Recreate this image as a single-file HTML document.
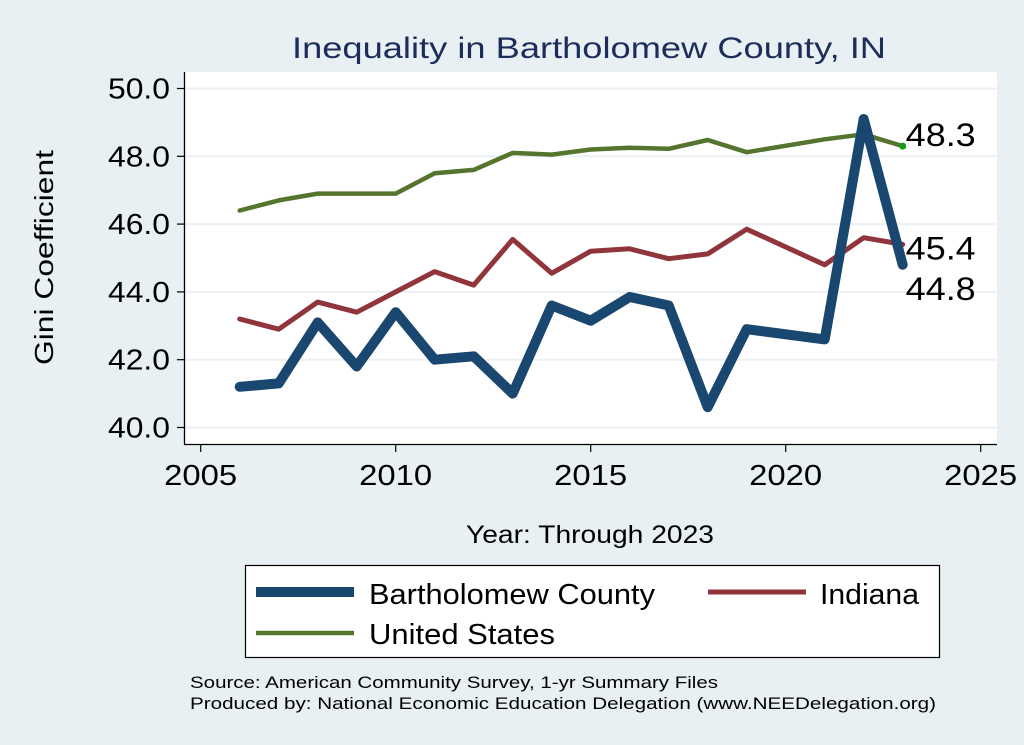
<!DOCTYPE html>
<html><head><meta charset="utf-8"><style>
html,body{margin:0;padding:0;background:#e8f0f3;}
svg{display:block;font-family:"Liberation Sans",Arial,sans-serif;}
</style></head><body>
<svg width="1024" height="745" viewBox="0 0 1024 745">
<rect x="0" y="0" width="1024" height="745" fill="#e8f0f3"/>
<text x="292" y="58" textLength="594" lengthAdjust="spacingAndGlyphs" font-size="30" fill="#1c2d5a">Inequality in Bartholomew County, IN</text>
<rect x="184" y="72" width="813" height="372" fill="#ffffff"/>
<g id="grid"></g>
<g id="axes"></g>
<g id="series"></g>
<g id="labels"></g>
<text transform="translate(53,365) rotate(-90)" textLength="215" lengthAdjust="spacingAndGlyphs" font-size="26" fill="#000">Gini Coefficient</text>
<text x="466" y="543" textLength="248" lengthAdjust="spacingAndGlyphs" font-size="25" fill="#000">Year: Through 2023</text>
<g>
<rect x="245.5" y="565.5" width="694" height="92" fill="#fff" stroke="#000" stroke-width="1.2"/>
<line x1="256" y1="592" x2="354" y2="592" stroke="#1a476f" stroke-width="10"/>
<text x="369" y="604" textLength="286" lengthAdjust="spacingAndGlyphs" font-size="29" fill="#000">Bartholomew County</text>
<line x1="708" y1="592" x2="806" y2="592" stroke="#90353b" stroke-width="5"/>
<text x="820" y="604" textLength="99" lengthAdjust="spacingAndGlyphs" font-size="29" fill="#000">Indiana</text>
<line x1="256" y1="633" x2="354" y2="633" stroke="#55752f" stroke-width="4.5"/>
<text x="369" y="644" textLength="186" lengthAdjust="spacingAndGlyphs" font-size="29" fill="#000">United States</text>
</g>
<text x="190" y="688" textLength="528" lengthAdjust="spacingAndGlyphs" font-size="17" fill="#000">Source: American Community Survey, 1-yr Summary Files</text>
<text x="190" y="709" textLength="746" lengthAdjust="spacingAndGlyphs" font-size="17" fill="#000">Produced by: National Economic Education Delegation (www.NEEDelegation.org)</text>
</svg>
<script>
const years = [2006,2007,2008,2009,2010,2011,2012,2013,2014,2015,2016,2017,2018,2019,2021,2022,2023];
const bartholomew = [41.2,41.3,43.1,41.8,43.4,42.0,42.1,41.0,43.6,43.15,43.85,43.6,40.6,42.9,42.6,49.1,44.8];
const indiana = [43.2,42.9,43.7,43.4,44.0,44.6,44.2,45.55,44.55,45.2,45.27,44.98,45.12,45.85,44.8,45.6,45.4];
const us = [46.4,46.7,46.9,46.9,46.9,47.5,47.6,48.1,48.05,48.2,48.25,48.22,48.48,48.12,48.5,48.65,48.3];
const yTicks = [40,42,44,46,48,50];
const xTicks = [2005,2010,2015,2020,2025];
const NS="http://www.w3.org/2000/svg";
const X = v => 200.7 + (v-2005)*39;
const Y = v => 88.5 + (50-v)*33.9;
function mk(tag, attrs, parent){const e=document.createElementNS(NS,tag);for(const k in attrs)e.setAttribute(k,attrs[k]);parent.appendChild(e);return e;}
const grid=document.getElementById('grid'), axes=document.getElementById('axes'), series=document.getElementById('series'), labels=document.getElementById('labels');
yTicks.forEach(t=>{
  const g=mk('line',{x1:185,x2:997,y1:Y(t),y2:Y(t),stroke:'#eaf1f4','stroke-width':2},grid);
  
  
  const tk=mk('line',{x1:177,x2:184,y1:Y(t),y2:Y(t),stroke:'#000','stroke-width':1.2},axes);
  
  
  const tx=mk('text',{x:170,y:Y(t)+10,'text-anchor':'end','font-size':29,fill:'#000',textLength:62,lengthAdjust:'spacingAndGlyphs'},axes);
  tx.textContent=t.toFixed(1);
  
  
});
xTicks.forEach(t=>{
  const tk=mk('line',{x1:X(t),x2:X(t),y1:444,y2:452,stroke:'#000','stroke-width':1.2},axes);
  
  
  const tx=mk('text',{x:X(t)-36.5,y:485,'font-size':29,fill:'#000',textLength:73,lengthAdjust:'spacingAndGlyphs'},axes);
  tx.textContent=t;
  
  
});
const ya=mk('line',{x1:184.5,x2:184.5,y1:72,y2:444.5,stroke:'#000','stroke-width':1.3},axes);


const xa=mk('line',{x1:184,x2:997,y1:444.5,y2:444.5,stroke:'#000','stroke-width':1.3},axes);


function line(vals,color,w,name){
  const d=vals.map((v,i)=>(i?'L':'M')+X(years[i]).toFixed(1)+','+Y(v).toFixed(1)).join(' ');
  const p=mk('path',{d:d,fill:'none',stroke:color,'stroke-width':w,'stroke-linejoin':'round','stroke-linecap':'round'},series);
  
  
}
line(us,'#55752f',4.5,'line-united-states');
line(indiana,'#90353b',5,'line-indiana');
line(bartholomew,'#1a476f',10,'line-bartholomew');
const n=years.length-1;
const dot=mk('circle',{cx:X(years[n]),cy:Y(us[n]),r:3.5,fill:'#1a9a1a'},series);


function lab(v,yOff,name){
  const t=mk('text',{x:X(years[n])+3,y:Y(v)+yOff,'font-size':32,fill:'#000',textLength:70,lengthAdjust:'spacingAndGlyphs'},labels);
  t.textContent=v.toFixed(1);
  
  
}
lab(us[n],0,'label-us-2023');
lab(indiana[n],15,'label-indiana-2023');
lab(bartholomew[n],35,'label-bartholomew-2023');
</script>
</body></html>
